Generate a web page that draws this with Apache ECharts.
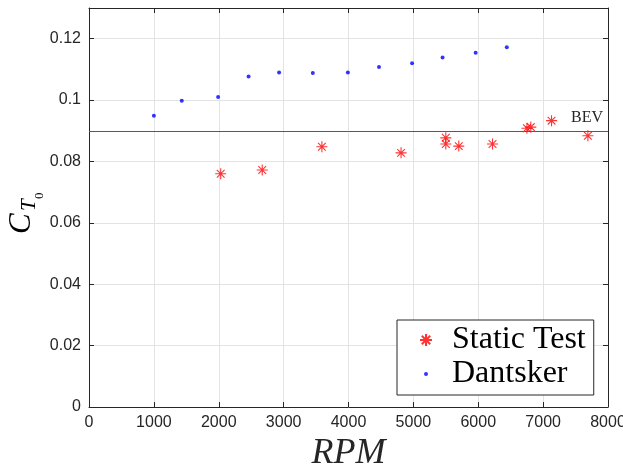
<!DOCTYPE html>
<html>
<head>
<meta charset="utf-8">
<script src="https://cdn.jsdelivr.net/npm/echarts@6/dist/echarts.min.js"></script>
<style>
  html, body { margin: 0; padding: 0; background: #fff; }
  #chart { width: 623px; height: 465px; }
</style>
</head>
<body>
<div id="chart"></div>
<script>
// data
const dantskerRpm = [1000, 1430, 1990, 2460, 2930, 3450, 3990, 4470, 4980, 5450, 5960, 6440];
const dantskerCt = [0.0949, 0.0998, 0.1010, 0.1077, 0.1090, 0.1088, 0.1090, 0.1108, 0.1120, 0.1139, 0.1154, 0.1172];
const staticRpm = [2030, 2670, 3590, 4810, 5500, 5500, 5700, 6220, 6750, 6810, 7130, 7690];
const staticCt = [0.0760, 0.0772, 0.0848, 0.0828, 0.0877, 0.0857, 0.0850, 0.0857, 0.0908, 0.0912, 0.0933, 0.0884];
const bevValue = 0.09;
const xTicks = { min: 0, max: 8000, step: 1000 };
const yTicks = { min: 0, max: 0.13, step: 0.02 };

const axisColor = "#262626";
const gridColor = "#e3e3e3";
const serif = "'Liberation Serif', 'Times New Roman', serif";
const sans = "'Liberation Sans', Arial, Helvetica, sans-serif";

// asterisk marker like matlab '*'
const starPath = "path://M0,-1L0,1M-1,0L1,0M-0.7,-0.7L0.7,0.7M-0.7,0.7L0.7,-0.7";
// small dot, bbox padded so legend icon stays small
const dotPath = "path://M-6,-6L-6,-6M6,6L6,6M-2,0A2,2 0 1,1 2,0A2,2 0 1,1 -2,0Z";

const chart = echarts.init(document.getElementById("chart"));

const tickStyle = { show: true, inside: true, length: 5, lineStyle: { color: axisColor } };
const lineStyle = { show: true, onZero: false, lineStyle: { color: axisColor } };

const option = {
  animation: false,
  backgroundColor: "#fff",
  grid: { left: 89, right: 15, top: 8, bottom: 58, containLabel: false, outerBoundsMode: "none" },
  xAxis: [
    {
      type: "value",
      position: "bottom",
      min: xTicks.min,
      max: xTicks.max,
      interval: xTicks.step,
      axisLine: lineStyle,
      axisTick: tickStyle,
      axisLabel: { color: axisColor, fontFamily: sans, fontSize: 16, margin: 8, formatter: (v) => String(v) },
      splitLine: { show: true, lineStyle: { color: gridColor } },
      name: "RPM",
      nameLocation: "middle",
      nameGap: 22,
      nameTextStyle: { fontFamily: serif, fontStyle: "italic", fontSize: 36, color: axisColor },
    },
    {
      type: "value",
      position: "top",
      min: xTicks.min,
      max: xTicks.max,
      interval: xTicks.step,
      axisLine: lineStyle,
      axisTick: tickStyle,
      axisLabel: { show: false },
      splitLine: { show: false },
    },
  ],
  yAxis: [
    {
      type: "value",
      position: "left",
      min: yTicks.min,
      max: yTicks.max,
      interval: yTicks.step,
      axisLine: lineStyle,
      axisTick: tickStyle,
      axisLabel: {
        color: axisColor,
        fontFamily: sans,
        fontSize: 16,
        margin: 8,
        formatter: (v) => (v > 0.125 ? "" : String(+v.toFixed(2))),
      },
      splitLine: { show: true, lineStyle: { color: gridColor } },
    },
    {
      type: "value",
      position: "right",
      min: yTicks.min,
      max: yTicks.max,
      interval: yTicks.step,
      axisLine: lineStyle,
      axisTick: tickStyle,
      axisLabel: { show: false },
      splitLine: { show: false },
    },
  ],
  legend: {
    orient: "vertical",
    left: 397,
    top: 320,
    padding: [4, 8, 5, 22],
    itemGap: 2,
    itemWidth: 12,
    itemHeight: 12,
    backgroundColor: "#fff",
    borderColor: axisColor,
    borderWidth: 1,
    borderRadius: 0,
    textStyle: { fontFamily: serif, fontSize: 32, color: "#000", padding: [0, 0, 0, 15] },
    data: [
      { name: "Static Test", icon: starPath },
      { name: "Dantsker", icon: dotPath },
    ],
  },
  series: [
    {
      name: "Static Test",
      type: "scatter",
      symbol: starPath,
      symbolSize: 11,
      itemStyle: { color: "rgba(255,0,0,0)", borderColor: "#ff0000", borderWidth: 1.1 },
      data: staticRpm.map((r, i) => [r, staticCt[i]]),
      z: 3,
      markLine: {
        silent: true,
        symbol: "none",
        lineStyle: { color: "#595959", width: 1, type: "solid" },
        label: {
          show: true,
          position: "insideEndTop",
          formatter: "BEV",
          fontFamily: serif,
          fontSize: 16,
          color: axisColor,
          distance: [5, 5],
        },
        data: [{ yAxis: bevValue }],
      },
    },
    {
      name: "Dantsker",
      type: "scatter",
      symbol: "circle",
      symbolSize: 4,
      itemStyle: { color: "#0000ff", borderWidth: 0 },
      data: dantskerRpm.map((r, i) => [r, dantskerCt[i]]),
      z: 3,
    },
  ],
  graphic: [
    {
      type: "group",
      x: 32,
      y: 234,
      rotation: Math.PI / 2,
      children: [
        { type: "text", x: 0, y: -10, style: { text: "C", font: "italic 31px " + serif, fill: "#000", verticalAlign: "middle", align: "left" } },
        { type: "text", x: 23, y: -3, style: { text: "T", font: "italic 21px " + serif, fill: "#000", verticalAlign: "middle", align: "left" } },
        { type: "text", x: 35, y: 8, style: { text: "0", font: "13px " + serif, fill: "#000", verticalAlign: "middle", align: "left" } },
      ],
    },
  ],
};

chart.setOption(option);
</script>
</body>
</html>
